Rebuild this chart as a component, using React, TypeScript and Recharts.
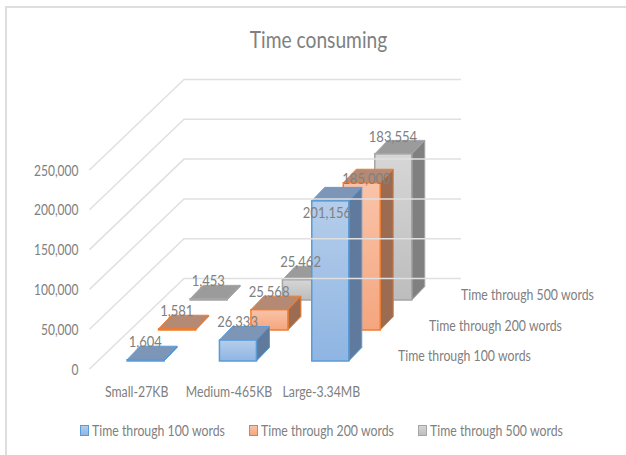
import { ComposedChart, Bar, Line, XAxis, YAxis, ReferenceLine, Legend, LabelList } from 'recharts';

const categories = ['Small-27KB', 'Medium-465KB', 'Large-3.34MB'];
const time100 = [1604, 26333, 201156];
const time200 = [1581, 25568, 185000];
const time500 = [1453, 25462, 183554];
const yTicks = [0, 50000, 100000, 150000, 200000, 250000];

const FONT = 'Lato, sans-serif';
const TEXT = '#808080';

// depth of the side wall and of one box
const WALL_DX = 94.5;
const WALL_DY = -90.5;
const CAP_DX = 13;
const CAP_DY = -13.5;

// back row first so nearer boxes paint over it
const series = [
  { key: 'time500', name: 'Time through 500 words', dx: 72.6, dy: -69, edge: '#a5a5a5', light: '#d6d6d6', dark: '#bdbdbd', cap: '#9b9b9b', side: '#808080', tagX: 461, tagY: 294, shifts: [[0, 0], [0, 0], [0, 1]] },
  { key: 'time200', name: 'Time through 200 words', dx: 41.1, dy: -39, edge: '#ed7d31', light: '#f9c3a9', dark: '#f5a67e', cap: '#b58a75', side: '#9c6c52', tagX: 429, tagY: 325, shifts: [[0, 0], [0, 0], [5, 14]] },
  { key: 'time100', name: 'Time through 100 words', dx: 9.6, dy: -8, edge: '#5b9bd5', light: '#b5cdea', dark: '#8fb5e3', cap: '#7d96b8', side: '#5f7a9c', tagX: 398, tagY: 355, shifts: [[0, 0], [0, 0], [-3, 30]] },
];

const table = categories.map((name, i) => ({
  name,
  time100: time100[i],
  time200: time200[i],
  time500: time500[i],
}));

const fmt = (v: number) => v.toLocaleString('en-US');

// Lato squeezed sideways to get a narrow humanist face
function Txt({ x, y, anchor = 'start', size = 15, squeeze = 0.82, children }: any) {
  return (
    <text
      transform={`translate(${x} ${y}) scale(${squeeze} 1)`}
      textAnchor={anchor}
      dominantBaseline="central"
      fontFamily={FONT}
      fontSize={size}
      fill={TEXT}
    >
      {children}
    </text>
  );
}

function WallLine({ x1, y1 }: any) {
  const bx = x1 + WALL_DX;
  const by = y1 + WALL_DY;
  return <path d={`M${x1} ${y1}L${bx} ${by}L461 ${by}`} fill="none" stroke="#e0e0e0" strokeWidth={1.5} />;
}

function Box3D(props: any) {
  const { x, y, width, height, s } = props;
  const l = x + s.dx;
  const r = l + width;
  const t = y + s.dy;
  const b = t + height;
  const pt = (...p: number[]) => p.join(' ');
  return (
    <g>
      <polygon points={pt(l, t, l + CAP_DX, t + CAP_DY, r + CAP_DX, t + CAP_DY, r, t)} fill={s.cap} stroke={s.edge} strokeWidth={1} />
      <polygon points={pt(r, t, r + CAP_DX, t + CAP_DY, r + CAP_DX, b + CAP_DY, r, b)} fill={s.side} stroke={s.edge} strokeWidth={1} />
      <rect x={l} y={t} width={width} height={height} fill={`url(#front-${s.key})`} stroke={s.edge} strokeWidth={1.5} />
    </g>
  );
}

function renderLegend() {
  const ordered = [...series].reverse();
  return (
    <svg width={626} height={30} style={{ display: 'block' }}>
      {ordered.map((s, i) => (
        <g key={s.key}>
          <rect x={80.5 + i * 169} y={9.5} width={8} height={10} fill={`url(#front-${s.key})`} stroke={s.edge} />
          <Txt x={92 + i * 169} y={14}>{s.name}</Txt>
        </g>
      ))}
    </svg>
  );
}

export default function App() {
  return (
    <div style={{ position: 'absolute', left: 0, top: 0, width: 626, height: 455, background: '#fff' }}>
      <div style={{ position: 'absolute', left: 5, top: 6, right: 0, bottom: 0, borderLeft: '2px solid #dedede', borderTop: '2px solid #dedede' }} />
      <ComposedChart width={626} height={455} data={table} margin={{ top: 170, right: 259.5, bottom: 26, left: 29.5 }} style={{ position: 'absolute' }}>
        <defs>
          {series.map(s => (
            <linearGradient key={s.key} id={`front-${s.key}`} x1="0" y1="0" x2="0" y2="1">
              <stop offset="0%" stopColor={s.light} />
              <stop offset="100%" stopColor={s.dark} />
            </linearGradient>
          ))}
        </defs>
        <Txt x={318.5} y={39} anchor="middle" size={23} squeeze={0.835}>Time consuming</Txt>
        {series.map((s, i) => (
          <XAxis
            key={s.key}
            xAxisId={s.key}
            dataKey="name"
            hide={i !== 2}
            height={30}
            interval={0}
            axisLine={false}
            tickLine={false}
            tickSize={0}
            tickMargin={15}
            tick={(p: any) => <Txt x={p.x + 1} y={p.y + 7} anchor="middle">{p.payload.value}</Txt>}
          />
        ))}
        {series.map((s, i) => (
          <YAxis
            key={s.key}
            yAxisId={s.key}
            domain={[0, 250000]}
            ticks={yTicks}
            hide={i !== 2}
            width={60}
            axisLine={false}
            tickLine={false}
            tickSize={0}
            tickMargin={11}
            tick={(p: any) => <Txt x={p.x} y={p.y} anchor="end" squeeze={0.8}>{fmt(p.payload.value)}</Txt>}
          />
        ))}
        {yTicks.map(t => (
          <ReferenceLine key={t} xAxisId="time100" yAxisId="time100" y={t} shape={WallLine} />
        ))}
        {series.map(s => (
          <Bar
            key={s.key}
            name={s.name}
            dataKey={s.key}
            xAxisId={s.key}
            yAxisId={s.key}
            barSize={37}
            isAnimationActive={false}
            shape={(p: any) => <Box3D {...p} s={s} />}
          />
        ))}
        {series.map(s => (
          <Line
            key={s.key}
            dataKey={s.key}
            xAxisId={s.key}
            yAxisId={s.key}
            stroke="none"
            dot={false}
            activeDot={false}
            legendType="none"
            isAnimationActive={false}
          >
            <LabelList
              dataKey={s.key}
              content={(p: any) => {
                const [sx, sy] = s.shifts[p.index];
                return (
                  <Txt x={p.x + s.dx + sx} y={p.y + s.dy + CAP_DY - 5.5 + sy} anchor="middle" squeeze={0.87}>
                    {fmt(p.value)}
                  </Txt>
                );
              }}
            />
          </Line>
        ))}
        {series.map(s => (
          <Txt key={s.key} x={s.tagX} y={s.tagY}>{s.name}</Txt>
        ))}
        <Legend content={renderLegend} verticalAlign="bottom" wrapperStyle={{ left: 0, top: 416, width: 626, height: 30 }} />
      </ComposedChart>
    </div>
  );
}
